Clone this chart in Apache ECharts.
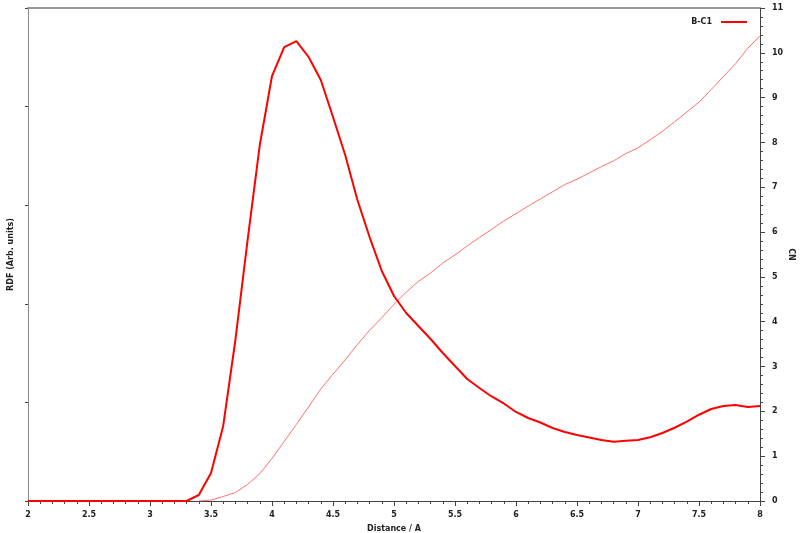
<!DOCTYPE html>
<html>
<head>
<meta charset="utf-8">
<script src="https://cdn.jsdelivr.net/npm/echarts@6/dist/echarts.min.js"></script>
<style>html,body{margin:0;padding:0;background:#fff}#c{width:800px;height:533px}</style>
</head>
<body>
<div id="c"></div>
<script>
var distance = [2.0,2.1,2.2,2.3,2.4,2.5,2.6,2.7,2.8,2.9,3.0,3.1,3.2,3.3,3.4,3.5,3.6,3.7,3.8,3.9,
  4.0,4.1,4.2,4.3,4.4,4.5,4.6,4.7,4.8,4.9,5.0,5.1,5.2,5.3,5.4,5.5,5.6,5.7,5.8,5.9,
  6.0,6.1,6.2,6.3,6.4,6.5,6.6,6.7,6.8,6.9,7.0,7.1,7.2,7.3,7.4,7.5,7.6,7.7,7.8,7.9,8.0];
var rdf = [0,0,0,0,0,0,0,0,0,0,0,0,0,0,0.061,0.284,0.761,1.633,2.647,3.611,
  4.310,4.604,4.665,4.503,4.270,3.895,3.509,3.053,2.677,2.333,2.079,1.907,1.775,1.643,1.501,1.369,1.237,1.146,1.060,0.989,
  0.903,0.842,0.796,0.740,0.700,0.669,0.644,0.619,0.601,0.611,0.619,0.646,0.690,0.743,0.804,0.875,0.933,0.963,0.974,0.953,0.963];
var cn = [null,null,null,null,null,null,null,null,null,null,null,null,null,null,0,0.02,0.10,0.19,0.37,0.61,
  0.95,1.33,1.71,2.10,2.50,2.83,3.15,3.49,3.81,4.09,4.39,4.66,4.90,5.09,5.31,5.49,5.69,5.88,6.06,6.25,
  6.41,6.58,6.74,6.90,7.06,7.18,7.32,7.46,7.59,7.75,7.88,8.06,8.25,8.46,8.68,8.90,9.18,9.47,9.76,10.10,10.38];
var seriesName = 'B-C1';
var xName = 'Distance / A';
var yLeftName = 'RDF (Arb. units)';
var yRightName = 'CN';

var rdfData = distance.map(function(x,i){return [x, rdf[i]];});
var cnData = distance.map(function(x,i){return [x, cn[i]];});

var font = {fontFamily:'DejaVu Sans', fontWeight:'bold', fontSize:8, color:'#222'};
var tickColor = '#444';
function minorAxis(extra){
  return Object.assign({
    type:'value', axisLine:{show:false,onZero:false},
    axisTick:{show:true,inside:false,length:3,lineStyle:{color:tickColor}},
    axisLabel:{show:false}, splitLine:{show:false}
  }, extra);
}
var chart = echarts.init(document.getElementById('c'), null, {renderer:'canvas'});
chart.setOption({
  animation:false,
  backgroundColor:'#fff',
  grid:{left:28,right:40,top:8,bottom:32,containLabel:false,outerBoundsMode:'none'},
  legend:{
    data:[{name:seriesName, icon:'rect'}], right:48, top:13, align:'right', itemWidth:26, itemHeight:2, itemGap:4,
    itemStyle:{color:'#ff0000'},
    textStyle:Object.assign({}, font, {padding:[0,4,0,0]})
  },
  xAxis:[{
    type:'value', min:2, max:8, interval:0.5,
    name:xName, nameLocation:'middle', nameGap:24, nameMoveOverlap:false, nameTextStyle:font,
    axisLine:{show:true,onZero:false,lineStyle:{color:tickColor,width:1}},
    axisTick:{show:true,inside:false,length:5,lineStyle:{color:tickColor}},
    axisLabel:Object.assign({margin:10}, font),
    splitLine:{show:false}
  },{
    type:'value', min:2, max:8, position:'top',
    axisLine:{show:true,onZero:false,lineStyle:{color:'#999',width:2}},
    axisTick:{show:false}, axisLabel:{show:false}, splitLine:{show:false}
  }, minorAxis({min:2, max:8, interval:0.1, position:'bottom'})],
  yAxis:[{
    type:'value', min:0, max:5, interval:1, position:'left',
    name:yLeftName, nameLocation:'middle', nameGap:13, nameMoveOverlap:false, nameTextStyle:font,
    axisLine:{show:true,onZero:false,lineStyle:{color:'#888',width:1}},
    axisTick:{show:true,inside:false,length:3,lineStyle:{color:tickColor}},
    axisLabel:{show:false}, splitLine:{show:false}
  },{
    type:'value', min:0, max:11, interval:1, position:'right',
    name:yRightName, nameLocation:'middle', nameGap:27, nameRotate:-90, nameMoveOverlap:false, nameTextStyle:font,
    axisLine:{show:true,onZero:false,lineStyle:{color:tickColor,width:1}},
    axisTick:{show:true,inside:false,length:5,lineStyle:{color:tickColor}},
    axisLabel:Object.assign({margin:12}, font),
    splitLine:{show:false}
  }, minorAxis({min:0, max:11, interval:0.2, position:'right'})],
  series:[{
    name:seriesName, type:'line', xAxisIndex:0, yAxisIndex:0, data:rdfData,
    symbol:'none', smooth:false, itemStyle:{color:'#ff0000'},
    lineStyle:{color:'#ff0000',width:2}, z:3
  },{
    name:'CN', type:'line', xAxisIndex:0, yAxisIndex:1, data:cnData,
    symbol:'none', smooth:false, connectNulls:false, itemStyle:{color:'#ff8080'},
    lineStyle:{color:'#ff7070',width:1}, z:2
  }]
});
</script>
</body>
</html>
